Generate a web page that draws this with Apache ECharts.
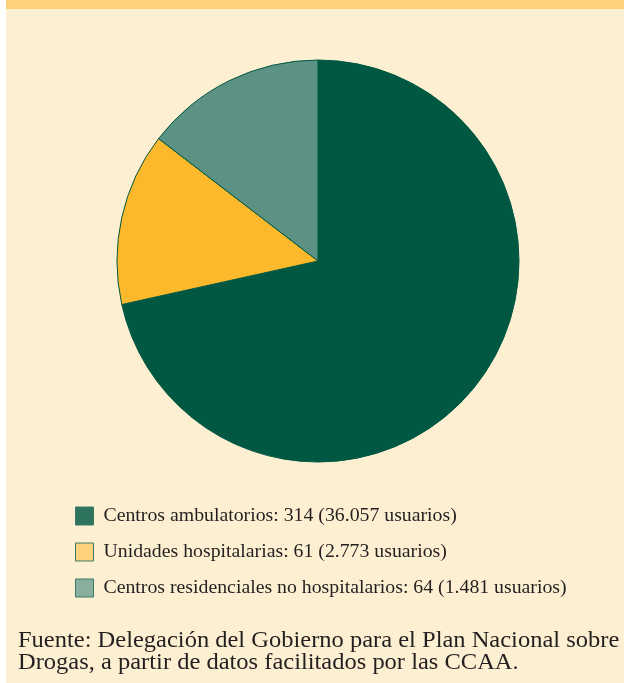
<!DOCTYPE html>
<html>
<head>
<meta charset="utf-8">
<script src="https://cdn.jsdelivr.net/npm/echarts@6/dist/echarts.min.js"></script>
<style>
  html, body { margin: 0; padding: 0; background: #ffffff; }
  #main { position: absolute; left: 6px; top: 0; width: 618px; height: 683px; background: #fdf0d2; }
</style>
</head>
<body>
<div id="main"></div>
<script>
// datos del gráfico
var categorias = [
  'Centros ambulatorios: 314 (36.057 usuarios)',
  'Unidades hospitalarias: 61 (2.773 usuarios)',
  'Centros residenciales no hospitalarios: 64 (1.481 usuarios)'
];
var centros = [314, 61, 64];
var colores = ['#005843', '#fcb92b', '#5b9283'];
var coloresLeyenda = ['#2e735e', '#fdd27a', '#8aaf9f'];

var myChart = echarts.init(document.getElementById('main'));

var option = {
  backgroundColor: '#fdf0d2',
  animation: false,
  graphic: [
    { type: 'rect', left: 0, top: 0, shape: { width: 618, height: 9 }, style: { fill: '#ffd27a' } },
    {
      type: 'text', left: 12, top: 629, scaleX: 1.065,
      style: {
        text: 'Fuente: Delegación del Gobierno para el Plan Nacional sobre\nDrogas, a partir de datos facilitados por las CCAA.',
        font: '23px "Liberation Serif"', fill: '#231f20', lineHeight: 22
      }
    }
  ],
  legend: {
    orient: 'vertical',
    left: 64, top: 501,
    itemWidth: 18, itemHeight: 18,
    itemGap: 16,
    icon: 'rect',
    textStyle: { fontFamily: 'Liberation Serif', fontSize: 19.8, color: '#231f20', padding: [0, 0, 0, 5] },
    data: categorias.map(function (c, i) {
      return { name: c, itemStyle: { color: coloresLeyenda[i], borderColor: '#3d7a66', borderWidth: 1 } };
    })
  },
  series: [{
    type: 'pie',
    center: [312, 261],
    radius: [0, 201],
    startAngle: 90,
    clockwise: true,
    label: { show: false },
    labelLine: { show: false },
    emphasis: { disabled: true },
    itemStyle: { borderColor: '#005843', borderWidth: 1 },
    data: categorias.map(function (c, i) {
      return { name: c, value: centros[i], itemStyle: { color: colores[i] } };
    })
  }]
};

myChart.setOption(option);
</script>
</body>
</html>
